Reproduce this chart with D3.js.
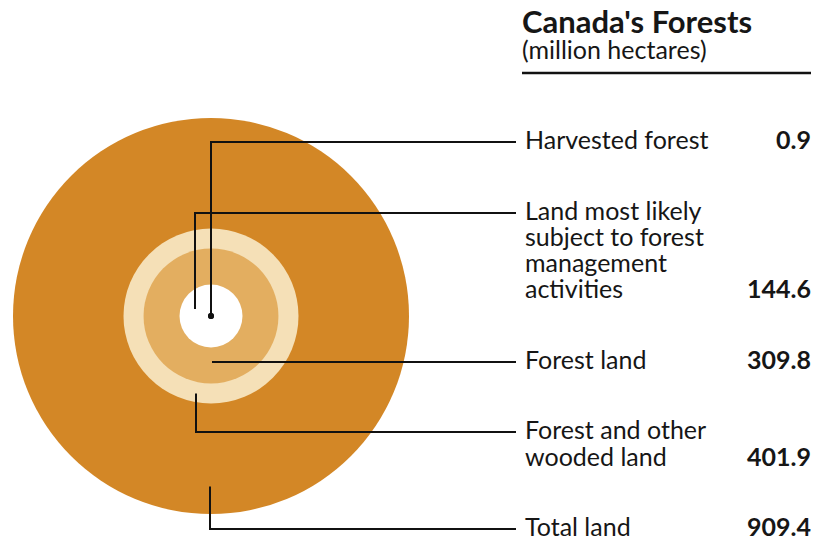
<!DOCTYPE html>
<html>
<head>
<meta charset="utf-8">
<script src="https://cdn.jsdelivr.net/npm/d3@7"></script>
<style>
  body { margin: 0; background: #fff; }
  text { font-family: Lato, "DejaVu Sans Condensed", sans-serif; fill: #161616; }
</style>
</head>
<body>
<div class="d3Chart"></div>
<script>
// 数据（百万公顷）
var labels = [
  ["Harvested forest"],
  ["Land most likely", "subject to forest", "management", "activities"],
  ["Forest land"],
  ["Forest and other", "wooded land"],
  ["Total land"]
];
var values = [0.9, 144.6, 309.8, 401.9, 909.4];
var fills = ["#111111", "#ffffff", "#e3ae60", "#f5e0b7", "#d38726"];

var width = 822;
var height = 538;
var cx = 211, cy = 316;
var maxR = 198;

var svg = d3
  .select(".d3Chart")
  .append("svg")
  .attr("width", width)
  .attr("height", height);

// 半径比例尺（按半径成比例）
var rScale = d3.scaleLinear().domain([0, d3.max(values)]).range([0, maxR]);

var items = values.map(function (v, i) {
  return { label: labels[i], value: v, fill: fills[i], r: Math.max(rScale(v), 3), index: i };
});

// 由大到小画同心圆
svg
  .append("g")
  .selectAll("circle")
  .data(items.slice().sort(function (a, b) { return b.value - a.value; }))
  .enter()
  .append("circle")
  .attr("cx", cx)
  .attr("cy", cy)
  .attr("r", function (d) { return d.r; })
  .attr("fill", function (d) { return d.fill; });

// 标签排版
var textX = 525;
var valueX = 811;
var lineEnd = 516;
var lineH = 26.3;
var gap = 70.5;
var y = 149;
items.forEach(function (d) {
  d.y = y;
  d.lastY = y + (d.label.length - 1) * lineH;
  y = d.lastY + gap;
});

// 引线落点：环内位置（0 = 内缘，1 = 外缘）
var anchorT = [0, 0.22, 0.5, 0.5, 0.75];
var anchorDx = [0, -16, 1, -15, -1];
function innerR(i) { return i === 0 ? 0 : rScale(values[i - 1]); }

var leaders = items.map(function (d, i) {
  var ly = Math.round(d.y - 7);
  var ax = cx + anchorDx[i];
  var ar = i === 1 ? -innerR(2) * anchorT[i] : innerR(i) + (rScale(values[i]) - innerR(i)) * anchorT[i];
  var ay = i === 0 ? cy : cy + ar;
  if (i === 2) return [[ax, ly], [lineEnd, ly]];
  return [[ax, ay], [ax, ly], [lineEnd, ly]];
});

var line = d3.line().x(function (d) { return d[0]; }).y(function (d) { return d[1]; });

svg
  .append("g")
  .selectAll("path")
  .data(leaders)
  .enter()
  .append("path")
  .attr("fill", "none")
  .attr("stroke", "#111")
  .attr("stroke-width", 2)
  .attr("d", line);

// 收获林小圆点
svg.append("circle").attr("cx", cx).attr("cy", cy).attr("r", 3).attr("fill", "#111");

var lab = svg.append("g").selectAll("g").data(items).enter().append("g");

lab
  .append("text")
  .attr("x", textX)
  .attr("y", function (d) { return d.y; })
  .attr("font-size", 25)
  .selectAll("tspan")
  .data(function (d) { return d.label; })
  .enter()
  .append("tspan")
  .attr("x", textX)
  .attr("dy", function (d, i) { return i === 0 ? 0 : lineH; })
  .text(function (d) { return d; });

lab
  .append("text")
  .attr("x", valueX)
  .attr("y", function (d) { return d.lastY; })
  .attr("text-anchor", "end")
  .attr("font-size", 25)
  .attr("font-weight", "bold")
  .text(function (d) { return d.value.toFixed(1); });

// 标题
svg.append("text")
  .attr("x", 522)
  .attr("y", 33)
  .attr("font-size", 31)
  .attr("font-weight", "bold")
  .text("Canada's Forests");

svg.append("text")
  .attr("x", 522)
  .attr("y", 59)
  .attr("font-size", 25)
  .text("(million hectares)");

svg.append("line")
  .attr("x1", 522)
  .attr("x2", 811)
  .attr("y1", 73)
  .attr("y2", 73)
  .attr("stroke", "#111")
  .attr("stroke-width", 2.5);
</script>
</body>
</html>
